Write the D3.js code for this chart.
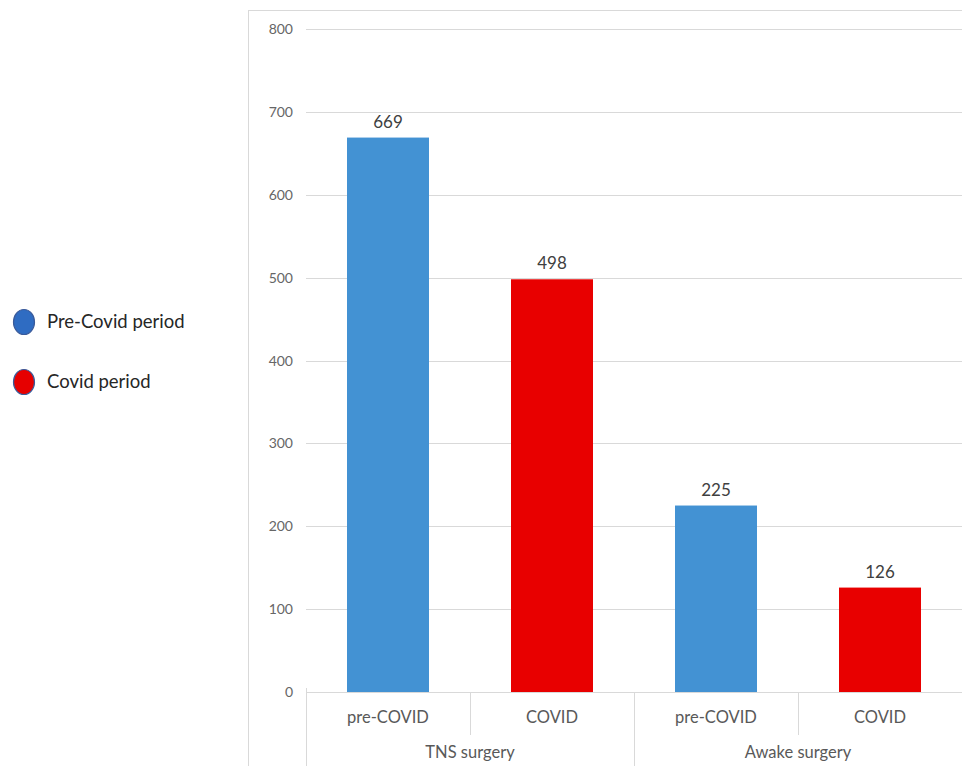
<!DOCTYPE html>
<html>
<head>
<meta charset="utf-8">
<script src="https://cdn.jsdelivr.net/npm/d3@7"></script>
<style>
  body { margin: 0; background: #fff; }
  svg { display: block; font-family: Lato, "Open Sans", "Liberation Sans", sans-serif; }
</style>
</head>
<body>
<svg id="chart" width="962" height="766"></svg>
<script>
// --- Data ----------------------------------------------------------------
const groups = ['TNS surgery', 'Awake surgery'];
const periods = ['pre-COVID', 'COVID'];
const values = [669, 498, 225, 126];
const yTicks = [0, 100, 200, 300, 400, 500, 600, 700, 800];
const legendLabels = ['Pre-Covid period', 'Covid period'];

const barColors = { 'pre-COVID': '#4392d3', 'COVID': '#e80000' };
const legendFill = ['#2f6cc2', '#e60000'];

// one row per bar
const rows = [];
groups.forEach((g, gi) => periods.forEach((p, pi) => {
  rows.push({ group: g, period: p, key: g + '|' + p, value: values[gi * periods.length + pi] });
}));

// --- Layout --------------------------------------------------------------
const svg = d3.select('#chart');
const plot = { left: 306, right: 962, top: 29, bottom: 692 };

const x = d3.scaleBand()
  .domain(rows.map(d => d.key))
  .range([plot.left, plot.right])
  .paddingInner(0.5)
  .paddingOuter(0.25);

const y = d3.scaleLinear().domain([0, 800]).range([plot.bottom, plot.top]);

// chart frame
svg.append('rect')
  .attr('x', 248.5).attr('y', 10.5)
  .attr('width', 730).attr('height', 760)
  .attr('fill', 'none').attr('stroke', '#d9d9d9');

// gridlines + tick labels
svg.append('g').selectAll('line').data(yTicks.filter(t => t > 0)).join('line')
  .attr('x1', plot.left).attr('x2', plot.right)
  .attr('y1', d => Math.round(y(d)) + 0.5).attr('y2', d => Math.round(y(d)) + 0.5)
  .attr('stroke', '#d9d9d9');

svg.append('g').selectAll('text').data(yTicks).join('text')
  .attr('x', 293).attr('y', d => y(d) + 5)
  .attr('text-anchor', 'end')
  .attr('font-size', 14).attr('fill', '#666')
  .text(d => d);

// bars
svg.append('g').selectAll('rect').data(rows).join('rect')
  .attr('x', d => x(d.key)).attr('width', x.bandwidth())
  .attr('y', d => y(d.value)).attr('height', d => y(0) - y(d.value))
  .attr('fill', d => barColors[d.period]);

// value labels
svg.append('g').selectAll('text').data(rows).join('text')
  .attr('x', d => x(d.key) + x.bandwidth() / 2)
  .attr('y', d => y(d.value) - 10)
  .attr('text-anchor', 'middle')
  .attr('font-size', 17).attr('fill', '#404040')
  .text(d => d.value);

// --- Category axis (two levels) -----------------------------------------
const step = x.step();
const axis = svg.append('g');
axis.append('line')
  .attr('x1', plot.left).attr('x2', plot.right)
  .attr('y1', plot.bottom + 0.5).attr('y2', plot.bottom + 0.5)
  .attr('stroke', '#d9d9d9');

// dividers between bars: short ones inside a group, long ones between groups
const dividers = d3.range(rows.length + 1).map(i => ({
  xPos: plot.left + i * step,
  long: i % periods.length === 0
}));
axis.selectAll('line.div').data(dividers).join('line')
  .attr('class', 'div')
  .attr('x1', d => Math.round(d.xPos) + 0.5).attr('x2', d => Math.round(d.xPos) + 0.5)
  .attr('y1', (d, i) => i === 0 ? plot.bottom - 4 : plot.bottom)
  .attr('y2', d => d.long ? 766 : plot.bottom + 43)
  .attr('stroke', '#d9d9d9');

axis.selectAll('text.sub').data(rows).join('text')
  .attr('class', 'sub')
  .attr('x', d => x(d.key) + x.bandwidth() / 2)
  .attr('y', plot.bottom + 31)
  .attr('text-anchor', 'middle')
  .attr('font-size', 16.5).attr('fill', '#595959')
  .text(d => d.period);

axis.selectAll('text.grp').data(groups).join('text')
  .attr('class', 'grp')
  .attr('x', (d, i) => plot.left + step * periods.length * (i + 0.5))
  .attr('y', plot.bottom + 66)
  .attr('text-anchor', 'middle')
  .attr('font-size', 16.5).attr('fill', '#595959')
  .text(d => d);

// --- Legend --------------------------------------------------------------
const legend = svg.append('g').selectAll('g').data(legendLabels).join('g')
  .attr('transform', (d, i) => `translate(24, ${322 + i * 60})`);

legend.append('ellipse')
  .attr('rx', 10.5).attr('ry', 12.5)
  .attr('fill', (d, i) => legendFill[i])
  .attr('stroke', '#3a5a9a').attr('stroke-width', 1.2);

legend.append('text')
  .attr('x', 23).attr('y', 6)
  .attr('font-size', 18.5).attr('fill', '#262626')
  .text(d => d);
</script>
</body>
</html>
